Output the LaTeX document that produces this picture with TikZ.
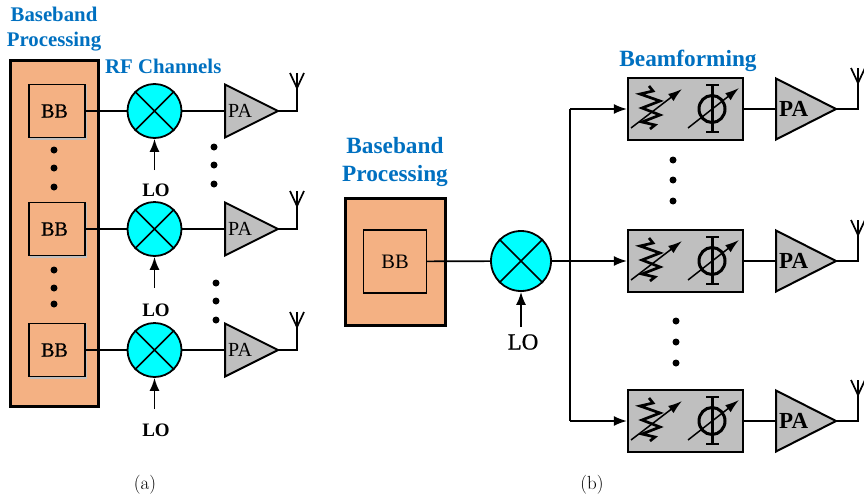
\documentclass[tikz,border=0pt]{standalone}
\usepackage{fontspec}
\setmainfont{Liberation Serif}
\newfontfamily\lmfont{Latin Modern Roman}
\newfontfamily\semifont[FakeBold=0.6]{Liberation Serif}
\usetikzlibrary{arrows.meta}
\definecolor{bbfill}{HTML}{F4B183}
\definecolor{mixfill}{HTML}{00FFFF}
\definecolor{pagray}{HTML}{BFBFBF}
\definecolor{headblue}{HTML}{0070C0}
\tikzset{
  x=1pt,y=-1pt,
  wire/.style={line width=1.7pt},
  arrowwire/.style={line width=1.7pt,-{Latex[length=13pt,width=10pt]}},
  thickbox/.style={draw,line width=3pt,fill=bbfill,inner sep=0pt},
  bbbox/.style={draw,line width=1.8pt,fill=bbfill,inner sep=0pt,font=\semifont\fontsize{20}{22}\selectfont},
  softedge/.style={preaction={draw=black!25,line width=1.6pt,transform canvas={shift={(1.5pt,-1.5pt)}}}},
  mixer/.style={draw,circle,line width=1.8pt,fill=mixfill,inner sep=0pt},
  bfbox/.style={draw,line width=2.2pt,fill=pagray,inner sep=0pt,minimum width=115pt,minimum height=62pt},
  head/.style={text=headblue,font=\fontsize{20.8}{25}\selectfont\bfseries,align=center,inner sep=0pt},
  headb/.style={text=headblue,font=\fontsize{23.3}{28}\selectfont\bfseries,align=center,inner sep=0pt},
  lotext/.style={inner sep=0pt,font=\fontsize{19}{20}\selectfont\bfseries},
  dotmark/.style={circle,fill=black,inner sep=0pt,minimum size=7pt},
  capt/.style={inner sep=0pt,font=\lmfont\fontsize{19}{22}\selectfont},
  patext/.style={inner sep=0pt,font=\fontsize{20}{22}\selectfont},
}
% mixer: name, x, y, radius
\newcommand{\mixnode}[4]{%
  \node[mixer,minimum size=#4*2pt] (#1) at (#2,#3) {};
  \draw[line width=1.5pt] (#1.45) -- (#1.225) (#1.135) -- (#1.315);
}
% PA: name, left x, centre y, half height, tip x, label style
\newcommand{\panode}[6]{%
  \draw[line width=2pt,fill=pagray,line join=miter] (#2,#3-#4) -- (#5,#3) -- (#2,#3+#4) -- cycle;
  \coordinate (#1-in) at (#2,#3);
  \coordinate (#1) at (#5,#3);
  \node[patext,#6,anchor=west] (#1-t) at (#2+3,#3) {PA};
}
% antenna: name, start node, x, y, rise
\newcommand{\antnode}[5]{%
  \coordinate (#1-foot) at (#3,#4);
  \coordinate (#1-top) at (#3,#4-#5);
  \coordinate (#1-l) at (#3-7,#4-#5-15);
  \coordinate (#1-m) at (#3,#4-#5-15);
  \coordinate (#1-r) at (#3+7,#4-#5-15);
  \draw[line width=1.7pt] (#2) -- (#1-foot) -- (#1-top) (#1-l) -- (#1-top) -- (#1-r) (#1-top) -- (#1-m);
}
% beamforming block: name, centre y
\newcommand{\bfnode}[2]{%
  \node[bfbox] (#1) at (685.5,#2) {};
  \begin{scope}[shift={(0,#2-109)}]
    \draw[line width=2.7pt,line join=miter] (649,86) -- (653,91) -- (640,94) -- (660,101) -- (642,108) -- (660,115) -- (642,122) -- (655,125) -- (650,129);
    \draw[line width=1.5pt,-{Latex[length=14pt,width=9pt]}] (631,128) -- (682,89);
    \draw[line width=3pt] (712,109) ellipse (13pt and 13.5pt);
    \draw[line width=3pt] (712.5,85) -- (712.5,132);
    \draw[line width=2pt] (706,85) -- (719,85) (706,132) -- (719,132);
    \draw[line width=1.5pt,-{Latex[length=14pt,width=9pt]}] (688,128) -- (739,88);
  \end{scope}
}
\begin{document}
\begin{tikzpicture}
\useasboundingbox (0,0) rectangle (864,498);
% ---- (a)
\node[head] (hbpa) at (54,29.5) {Baseband\\Processing};
\node[head,anchor=west] (hrf) at (105,66) {RF Channels};
\node[thickbox,minimum width=88pt,minimum height=346pt] (bigbb) at (54.5,233) {};
\foreach \n/\y in {1/111,2/229,3/350}{
  \node[bbbox,softedge,minimum width=56pt,minimum height=53pt] (bb\n) at (57,\y) {\hspace*{-5pt}BB};
  \mixnode{mx\n}{154.5}{\y}{27}
  \panode{pa\n}{225}{\y}{26.5}{278}{}
  \draw[wire] (bb\n) -- (mx\n);
  \draw[wire] (mx\n) -- (pa\n-in);
  \antnode{ant\n}{pa\n}{297}{\y}{23}
}
\coordinate (lofa) at (154.5,170);\coordinate (lofb) at (154.5,288);\coordinate (lofc) at (154.5,409);
\draw[arrowwire] (lofa) -- (mx1);
\draw[arrowwire] (lofb) -- (mx2);
\draw[arrowwire] (lofc) -- (mx3);
\node[lotext] (lo1) at (156,190) {LO};
\node[lotext] (lo2) at (156,310) {LO};
\node[lotext] (lo3) at (156,430) {LO};
\foreach \x/\y in {54/150,54/168,54/187,54/270,54/288,54/304,214/147,214/165,214/184,216/283,216/301,216/320}
  \node[dotmark] at (\x,\y) {};
\node[capt] (capa) at (145,485) {(a)};
% ---- (b)
\node[headb] (hbpb) at (395,162) {Baseband\\Processing};
\node[headb] (hbf) at (688,61) {Beamforming};
\node[thickbox,minimum width=100pt,minimum height=127pt] (bigb) at (395,261.5) {};
\node[bbbox,line width=1.3pt,minimum width=63pt,minimum height=63pt,font=\fontsize{20.5}{22}\selectfont] (bbr) at (395,261.5) {BB};
\mixnode{mxr}{521}{261}{30}
\draw[wire] (bbr) -- (mxr);
\coordinate (lor) at (521,327);
\draw[arrowwire] (lor) -- (mxr);
\node[inner sep=0pt,font=\semifont\fontsize{23}{24}\selectfont] (lort) at (523,342) {LO};
\coordinate (busj) at (570,261);
\coordinate (bust) at (570,109);
\coordinate (busb) at (570,421);
\bfnode{bf1}{109}
\bfnode{bf2}{261}
\bfnode{bf3}{421}
\draw[wire] (mxr) -- (busj);
\draw[arrowwire] (bust) -- (bf1);
\draw[arrowwire] (busj) -- (bf2);
\draw[arrowwire] (busb) -- (bf3);
\draw[wire] (bust) -- (busb);
\foreach \n/\y in {1/109,2/261,3/421}{
  \panode{pr\n}{776}{\y}{30.5}{836}{font=\fontsize{23}{24}\selectfont\bfseries}
  \draw[wire] (bf\n) -- (pr\n-in);
  \antnode{anr\n}{pr\n}{858}{\y}{26}
}
\foreach \x/\y in {673/160,673/180,673/201,676/321,676/342,676/363}
  \node[dotmark] at (\x,\y) {};
\node[capt] (capb) at (592,485) {(b)};
\end{tikzpicture}
\end{document}
